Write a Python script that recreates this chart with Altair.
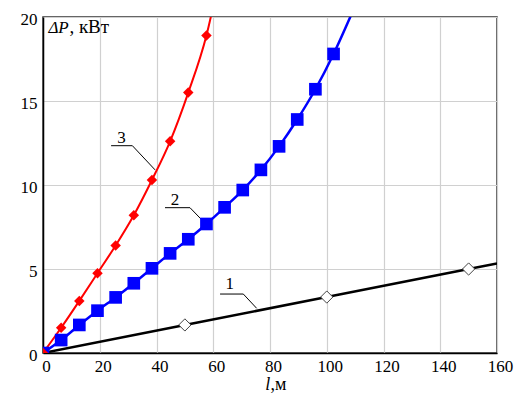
import altair as alt
import pandas as pd

# ---- data ----
x_ticks = [0, 20, 40, 60, 80, 100, 120, 140, 160]
y_ticks = [0, 5, 10, 15, 20]

# curve 3 (red, filled diamonds)
red_x = [0, 6.4, 12.8, 19.2, 25.6, 32.0, 38.4, 44.8, 51.2, 57.6]
red_y = [0, 1.5, 3.1, 4.75, 6.4, 8.2, 10.3, 12.6, 15.5, 18.9]
red_ext_x = [64.0]
red_ext_y = [24.0]

# curve 2 (blue, filled squares)
blue_x = [0, 6.4, 12.8, 19.2, 25.6, 32.0, 38.4, 44.8, 51.2, 57.6, 64.0,
          70.4, 76.8, 83.2, 89.6, 96.0, 102.4]
blue_y = [0, 0.77, 1.67, 2.52, 3.31, 4.15, 5.04, 5.93, 6.77, 7.68, 8.67,
          9.7, 10.9, 12.3, 13.9, 15.7, 17.8]
blue_ext_x = [108.8]
blue_ext_y = [20.2]

# curve 1 (black, open diamonds)
black_x = [0, 50, 100, 150, 160]
black_y = [0, 1.67, 3.33, 5.0, 5.33]
black_mark_x = [50, 100, 150]
black_mark_y = [1.67, 3.33, 5.0]

# curve labels and leader lines
label_text = ["3", "2", "1"]
label_x = [27.7, 46.5, 65.8]
label_y = [12.5, 8.8, 3.8]
leader_id = ["3", "3", "3", "2", "2", "2", "1", "1", "1"]
leader_x = [24.0, 31.5, 39.5, 43.0, 51.8, 57.7, 62.4, 70.6, 75.3]
leader_y = [12.34, 12.34, 10.9, 8.65, 8.65, 7.62, 3.51, 3.51, 2.66]

FONT = "Liberation Serif"
FS = 17

xs = alt.Scale(domain=[0, 160], nice=False)
ys = alt.Scale(domain=[0, 20], nice=False)
X = alt.X("x:Q", scale=xs, axis=alt.Axis(values=x_ticks, title=None, labelOffset=3,
                                          labelFont=FONT, labelFontSize=FS))
Y = alt.Y("y:Q", scale=ys, axis=alt.Axis(values=y_ticks, title=None, labelOffset=2,
                                          labelFont=FONT, labelFontSize=FS))

red_line_df = pd.DataFrame({"x": red_x + red_ext_x, "y": red_y + red_ext_y})
red_pts_df = pd.DataFrame({"x": red_x, "y": red_y})
blue_line_df = pd.DataFrame({"x": blue_x + blue_ext_x, "y": blue_y + blue_ext_y})
blue_pts_df = pd.DataFrame({"x": blue_x, "y": blue_y})
black_line_df = pd.DataFrame({"x": black_x, "y": black_y})
black_pts_df = pd.DataFrame({"x": black_mark_x, "y": black_mark_y})
labels_df = pd.DataFrame({"x": label_x, "y": label_y, "t": label_text})
leader_df = pd.DataFrame({"id": leader_id, "x": leader_x, "y": leader_y,
                          "o": list(range(len(leader_x)))})

black_line = alt.Chart(black_line_df).mark_line(color="black", strokeWidth=2.5, clip=True).encode(x=X, y=Y)
black_pts = alt.Chart(black_pts_df).mark_point(shape="diamond", size=150, filled=True, fill="white",
                                               stroke="#444444", strokeWidth=1, opacity=1).encode(x=X, y=Y)
blue_line = alt.Chart(blue_line_df).mark_line(color="#0000ff", strokeWidth=2.5, clip=True,
                                              interpolate="monotone").encode(x=X, y=Y)
blue_pts = alt.Chart(blue_pts_df).mark_point(shape="square", size=160, filled=True, color="#0000ff",
                                             opacity=1, clip=True).encode(x=X, y=Y)
red_line = alt.Chart(red_line_df).mark_line(color="#ff0000", strokeWidth=2, clip=True,
                                            interpolate="monotone").encode(x=X, y=Y)
red_pts = alt.Chart(red_pts_df).mark_point(shape="diamond", size=110, filled=True, color="#ff0000",
                                           opacity=1, clip=True).encode(x=X, y=Y)

leaders = alt.Chart(leader_df).mark_line(color="black", strokeWidth=1).encode(
    x=X, y=Y, detail="id:N", order="o:Q")
labels = alt.Chart(labels_df).mark_text(font=FONT, fontSize=FS, color="black", align="center",
                                        baseline="alphabetic").encode(x=X, y=Y, text="t:N")

# axis titles (mixed italic / upright)
yt_it = alt.Chart(pd.DataFrame({"x": [1.9], "y": [19.03], "t": ["ΔP"]})).mark_text(
    font=FONT, fontSize=17, fontStyle="italic", align="left", baseline="alphabetic", color="black"
).encode(x=X, y=Y, text="t:N")
yt_up = alt.Chart(pd.DataFrame({"x": [9.3], "y": [19.03], "t": [", кВт"]})).mark_text(
    font=FONT, fontSize=19, align="left", baseline="alphabetic", color="black"
).encode(x=X, y=Y, text="t:N")
xt_it = alt.Chart(pd.DataFrame({"x": [78.3], "y": [-2.2], "t": ["l"]})).mark_text(
    font=FONT, fontSize=18, fontStyle="italic", align="left", baseline="alphabetic", color="black"
).encode(x=X, y=Y, text="t:N")
xt_up = alt.Chart(pd.DataFrame({"x": [80.2], "y": [-2.2], "t": [",м"]})).mark_text(
    font=FONT, fontSize=18, align="left", baseline="alphabetic", color="black"
).encode(x=X, y=Y, text="t:N")

chart = alt.layer(
    black_line, blue_line, red_line, leaders, black_pts, blue_pts, red_pts, labels,
    yt_it, yt_up, xt_it, xt_up
).properties(
    width=454, height=336,
    autosize=alt.AutoSizeParams(type="none"),
    padding={"left": 35, "top": 9, "right": 17, "bottom": 40},
    background="white",
).configure_view(
    stroke="#333333", strokeWidth=1.5
).configure_axis(
    labelColor="black",
    ticks=False, domainColor="black", domainWidth=1.5,
    grid=True, gridColor="#d0d0d0", gridWidth=1.2,
    labelOverlap=False, labelFlush=False,
).configure_axisX(
    labelPadding=5
).configure_axisY(
    labelPadding=6
)

chart.save("out.html", embed_options={"renderer": "svg", "actions": False})
